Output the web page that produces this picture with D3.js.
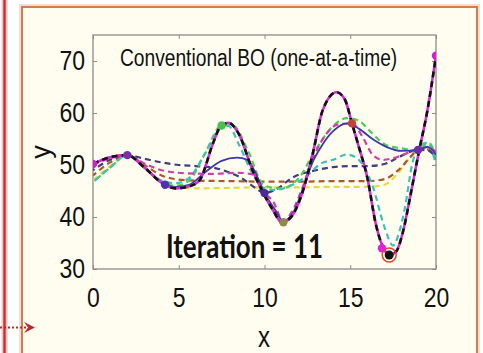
<!DOCTYPE html>
<html>
<head>
<meta charset="utf-8">
<script src="https://cdn.jsdelivr.net/npm/d3@7"></script>
<style>
html, body { margin: 0; padding: 0; background: #fff; }
svg { display: block; font-family: "Liberation Sans", Arial, sans-serif; }
</style>
</head>
<body>
<svg id="chart" width="483" height="353"></svg>
<script>
'use strict';

// ---- data ----
const xTicks = [0, 5, 10, 15, 20];
const yTicks = [30, 40, 50, 60, 70];

// final GP mean (magenta, black dashes on top) ~ true function
const finalMean = [[0,50.2],[1,51.5],[2,51.9],[3,49.5],[4,46.6],[4.8,45.5],[5.5,45.8],[6.2,47],[7,54.2],[7.4,57.2],[7.9,58.1],[8.5,56],[9.3,49],[9.9,44.8],[10.5,41.3],[11,39],[11.5,39.8],[12.2,44.6],[12.8,52],[13.4,60.6],[14.2,64],[14.7,62.5],[15.1,58],[15.5,53.5],[16,47.5],[16.5,38.5],[17,33.6],[17.3,32.7],[17.7,33.5],[18.1,37.5],[18.5,44],[19,52.5],[19.5,60.5],[20,71]];
// earlier mean (solid blue)
const prevMean = [[0,50.2],[1,51.5],[2,51.9],[3,49.5],[4,46.6],[4.8,45.8],[5.6,46.2],[6.5,48.5],[7.5,50.8],[8.4,51.4],[9,51],[9.4,49],[10,44.6],[10.6,41.5],[11.1,39.2],[11.7,41],[12.3,46],[12.8,50.5],[13.3,53.5],[14,56.5],[14.8,58],[15.5,57],[16.3,55],[17.1,53.5],[18,52.7],[18.95,52.9],[19.5,53.5],[20,52]];
// dashed GP samples of earlier iterations
const gpNavy = [[0,49],[1,51],[2,51.9],[3,51.2],[4,50.5],[5,50],[6,49.8],[7,49.5],[8,48.5],[8.6,47.6],[9.5,45.5],[10,44.6],[10.6,45.2],[11.7,47.7],[13,49],[14,49.6],[15,49.8],[16,49.8],[17,50.2],[18,51.8],[18.95,52.9],[19.5,52.8],[20,51.5]];
const gpBrown = [[0,48],[1,50.5],[2,51.9],[3,50],[4,48],[5,47.2],[6,47],[8,46.9],[10,46.8],[12,46.8],[14,46.9],[16,46.9],[17,47.3],[17.8,49],[18.5,51.5],[18.95,52.9],[19.5,53],[20,51]];
const gpYellow = [[0,47],[1,49.8],[2,51.9],[3,49.5],[4,46.8],[5,45.7],[6,45.5],[8,45.6],[10,45.7],[12,45.7],[14,45.8],[16,45.8],[17,46.2],[17.8,48.5],[18.5,51.5],[19,53],[19.5,53.5],[20,52]];
const gpGreen = [[0,46.7],[1,49.5],[2,51.9],[3,49.5],[4,46.8],[4.8,46],[5.6,47],[6.5,52],[7.5,57.6],[8.2,57.5],[9,53],[10,46],[11,45.5],[12,47.5],[13,53],[14,57.5],[14.8,59],[15.5,58.5],[16.3,56],[17.1,53.8],[18,53.2],[18.8,52.8],[19.6,54.2],[20,51.5]];
const gpCyan = [[0,46.7],[1,49.5],[2,51.9],[3,49.5],[4,47],[4.8,46.5],[5.6,47.5],[6.5,52],[7.5,57.3],[7.9,57.5],[8.5,54],[9.4,47.7],[10,45.5],[10.6,45.2],[11.5,46],[12.5,48],[13.3,50.3],[14,51],[14.8,52],[15.5,51],[16.3,46],[17,38],[17.5,34.5],[17.8,36.5],[18.2,42],[18.6,50],[19,53.5],[19.5,54.3],[20,50]];
const gpMagenta = [[0,50],[1,51.3],[2,51.9],[3,50.3],[4,49],[5.5,48.4],[7,48.3],[8.5,48.5],[9.3,48.2],[10,44.6],[10.5,43],[11.1,39.2],[11.6,41],[12.2,45.5],[12.8,51],[13.5,55.5],[14.3,57.8],[15.1,58],[15.7,55.5],[16.3,52],[16.9,51],[17.7,51.5],[18.5,52.5],[18.95,52.9],[19.5,53.5],[20,52.5]];

const dashedSeries = [
  { pts: gpYellow, color: '#e6d93a' },
  { pts: gpBrown, color: '#a9592d' },
  { pts: gpNavy, color: '#3d3f7e' },
  { pts: gpGreen, color: '#4ccf4c' },
  { pts: gpCyan, color: '#3fbfc0' },
  { pts: gpMagenta, color: '#cf3fa8' }
];

// observed samples
const obsX = [0, 2, 4.2, 7.5, 10, 11.1, 15.1, 16.85, 18.95, 20];
const obsY = [50.2, 51.9, 46.2, 57.6, 44.6, 39, 58, 34, 52.9, 71];
const obsColor = ['#d21fd2', '#7a2ea8', '#4b32b0', '#49c24a', '#4a2aa0', '#8d8a4a', '#c4413c', '#e020e0', '#6c2ea5', '#d21fd2'];
const best = [17.27, 32.7];

// ---- layout ----
const svg = d3.select('#chart');
const L = 93, R = 436, T = 35, B = 269;

const x = d3.scaleLinear().domain([0, 20]).range([L, R]);
const y = d3.scaleLinear().domain([30, 75]).range([B, T]);

// page decorations
svg.append('rect').attr('x', 0).attr('y', 0).attr('width', 483).attr('height', 353).attr('fill', '#fff');
svg.append('line').attr('x1', 4.5).attr('x2', 4.5).attr('y1', 0).attr('y2', 353)
  .attr('stroke', '#f4c6c6').attr('stroke-width', 6);
svg.append('line').attr('x1', 4.5).attr('x2', 4.5).attr('y1', 0).attr('y2', 353)
  .attr('stroke', '#d42a2a').attr('stroke-width', 2.4);

svg.append('rect').attr('x', 22).attr('y', 7).attr('width', 455).attr('height', 380)
  .attr('fill', 'none').attr('stroke', '#f6dcd2').attr('stroke-width', 6);
svg.append('rect').attr('x', 22).attr('y', 7).attr('width', 455).attr('height', 380)
  .attr('fill', '#fffdef').attr('stroke', '#cf7f4f').attr('stroke-width', 2);

// dotted arrow at lower left
svg.append('line').attr('x1', 0).attr('x2', 26).attr('y1', 327.5).attr('y2', 327.5)
  .attr('stroke', '#c0272d').attr('stroke-width', 2).attr('stroke-dasharray', '2,2');
svg.append('path').attr('d', 'M24,322 L35,327.5 L24,333 L28,327.5 Z').attr('fill', '#c0272d');

// clip for curves
svg.append('clipPath').attr('id', 'plotclip')
  .append('rect').attr('x', L).attr('y', T).attr('width', R - L).attr('height', B - T);

// axes (ticks inward, matlab box)
function styleAxis(g) {
  g.select('.domain').remove();
  g.selectAll('.tick line').attr('stroke', '#8c8c8c');
}
svg.append('g').attr('transform', `translate(0,${B})`)
  .call(d3.axisBottom(x).tickValues(xTicks).tickSize(-4).tickSizeOuter(0).tickPadding(15))
  .call(styleAxis)
  .call(g => g.selectAll('text').attr('font-size', 23).attr('fill', '#111')
    .attr('font-family', '"Liberation Sans", Arial, sans-serif').attr('transform', 'scale(1,1.2)'));
svg.append('g').attr('transform', `translate(${L},0)`)
  .call(d3.axisLeft(y).tickValues(yTicks).tickSize(-4).tickSizeOuter(0).tickPadding(8))
  .call(styleAxis)
  .call(g => g.selectAll('text').attr('font-size', 23).attr('fill', '#111')
    .attr('font-family', '"Liberation Sans", Arial, sans-serif').attr('transform', 'scale(1,1.2)'));
svg.append('g').attr('transform', `translate(0,${T})`)
  .call(d3.axisTop(x).tickValues(xTicks).tickSize(-4).tickSizeOuter(0).tickFormat(''))
  .call(styleAxis);
svg.append('g').attr('transform', `translate(${R},0)`)
  .call(d3.axisRight(y).tickValues(yTicks).tickSize(-4).tickSizeOuter(0).tickFormat(''))
  .call(styleAxis);

svg.append('rect').attr('x', L).attr('y', T).attr('width', R - L).attr('height', B - T)
  .attr('fill', 'none').attr('stroke', '#8c8c8c').attr('stroke-width', 1.3);

// curves
const line = d3.line().x(d => x(d[0])).y(d => y(d[1])).curve(d3.curveMonotoneX);
const plot = svg.append('g').attr('clip-path', 'url(#plotclip)');

dashedSeries.forEach((s, i) => {
  plot.append('path').attr('d', line(s.pts)).attr('fill', 'none')
    .attr('stroke', s.color).attr('stroke-width', 2.2)
    .attr('stroke-dasharray', '6,4').attr('stroke-dashoffset', i * 2);
});
plot.append('path').attr('d', line(prevMean)).attr('fill', 'none')
  .attr('stroke', '#3a3aa8').attr('stroke-width', 1.8);
plot.append('path').attr('d', line(finalMean)).attr('fill', 'none')
  .attr('stroke', '#d42ad4').attr('stroke-width', 2.6);
plot.append('path').attr('d', line(finalMean)).attr('fill', 'none')
  .attr('stroke', '#111').attr('stroke-width', 2.6).attr('stroke-dasharray', '6,4');

// observed points
plot.selectAll('circle.obs').data(obsX).join('circle').attr('class', 'obs')
  .attr('cx', d => x(d)).attr('cy', (d, i) => y(obsY[i])).attr('r', 4.2)
  .attr('fill', (d, i) => obsColor[i]);
plot.append('circle').attr('cx', x(best[0])).attr('cy', y(best[1])).attr('r', 4.5).attr('fill', '#111');
plot.append('circle').attr('cx', x(best[0])).attr('cy', y(best[1])).attr('r', 7)
  .attr('fill', 'none').attr('stroke', '#e0452a').attr('stroke-width', 1.5);

// texts
svg.append('text').attr('transform', 'translate(120,66) scale(1,1.2)')
  .attr('font-size', 19.2).attr('fill', '#111').text('Conventional BO (one-at-a-time)');
svg.append('text').attr('transform', 'translate(166,258) scale(1,1.15)')
  .attr('font-family', 'Lato, "Open Sans", sans-serif').attr('font-weight', 700)
  .attr('font-size', 28).attr('fill', '#111')
  .attr('textLength', 157).attr('lengthAdjust', 'spacingAndGlyphs').text('Iteration = 11');
svg.append('text').attr('transform', 'translate(264,347) scale(1,1.2)')
  .attr('text-anchor', 'middle').attr('font-size', 24).attr('fill', '#111').text('x');
svg.append('text').attr('transform', 'translate(50,152) rotate(-90)')
  .attr('text-anchor', 'middle').attr('font-size', 27).attr('fill', '#111').text('y');
</script>
</body>
</html>
